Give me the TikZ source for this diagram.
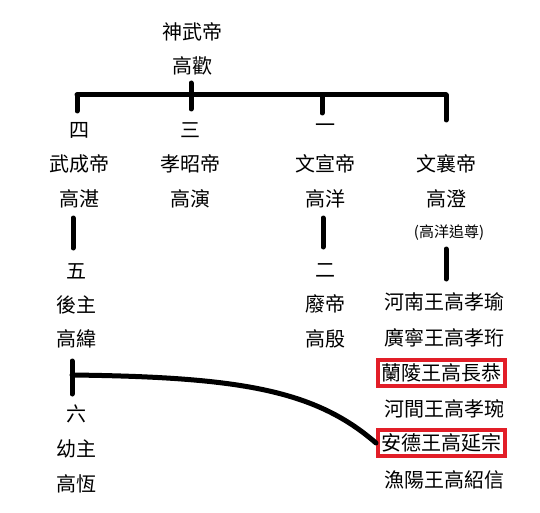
\documentclass[tikz,border=0pt]{standalone}
\usepackage{fontspec}
\setmainfont{Noto Sans CJK TC}
\usepackage{xcolor}
\definecolor{boxred}{RGB}{226,30,40}

\begin{document}
\begin{tikzpicture}[x=1pt,y=-1pt,
  person/.style={inner sep=0pt,font=\fontsize{20}{24}\selectfont},
  note/.style={inner sep=0pt,font=\fontsize{15}{18}\selectfont},
  mark box/.style={person,draw=boxred,line width=4pt,minimum width=127pt,minimum height=26pt},
  link/.style={line width=5pt,line cap=round}]

\useasboundingbox (0,0) rectangle (540,513);

% Founder
\node[person] (shenwu) at (192,32) {神武帝};
\node[person] (gaohuan) at (192,66) {高歡};

% Sons
\node[person] (n4) at (79,130) {四};
\node[person] (wucheng) at (79,164) {武成帝};
\node[person] (gaozhan) at (79,199) {高湛};

\node[person] (n3) at (190,130) {三};
\node[person] (xiaozhao) at (190,164) {孝昭帝};
\node[person] (gaoyan) at (190,199) {高演};

\node[person] (n1) at (325,128) {一};
\node[person] (wenxuan) at (325,164) {文宣帝};
\node[person] (gaoyang) at (325,199) {高洋};

\node[person] (wenxiang) at (446,164) {文襄帝};
\node[person] (gaocheng) at (446,199) {高澄};
\node[note] (zhuizun) at (449,233) {(高洋追尊)};

% Grandsons
\node[person] (n5) at (76,271) {五};
\node[person] (houzhu) at (76,305) {後主};
\node[person] (gaowei) at (76,339) {高緯};

\node[person] (n6) at (76,414) {六};
\node[person] (youzhu) at (76,449) {幼主};
\node[person] (gaoheng) at (76,484) {高恆};

\node[person] (n2) at (325,271) {二};
\node[person] (feidi) at (325,304) {廢帝};
\node[person] (gaoyin) at (325,339) {高殷};

\node[person] (xiaoyu) at (444,302) {河南王高孝瑜};
\node[person] (xiaoheng) at (444,338) {廣寧王高孝珩};
\node[mark box] (changgong) at (441.5,373) {蘭陵王高長恭};
\node[person] (xiaowan) at (444,409) {河間王高孝琬};
\node[mark box] (yanzong) at (441.5,443) {安德王高延宗};
\node[person] (shaoxin) at (444,480) {漁陽王高紹信};

% Family bar
\coordinate (barL) at (77,95);
\coordinate (barR) at (446,95);
\draw[link] (barL) -- (barR);
\draw[link] (barL) -- (77,111);
\draw[link] (191,83) -- (191,109);
\draw[link] (322,95) -- (322,113);
\draw[link] (barR) -- (446,120);

% Lines of descent
\draw[link] (73,218) -- (73,248);
\draw[link] (323,218) -- (323,247);
\draw[link] (446,249) -- (446,279);
\coordinate (teeTop) at (72,361);
\coordinate (teeMid) at (72,375);
\draw[link] (teeTop) -- (72,394);

% Adoption link
\draw[link] (teeMid) .. controls (240,377) and (315,390) .. (yanzong.west);

\end{tikzpicture}
\end{document}
